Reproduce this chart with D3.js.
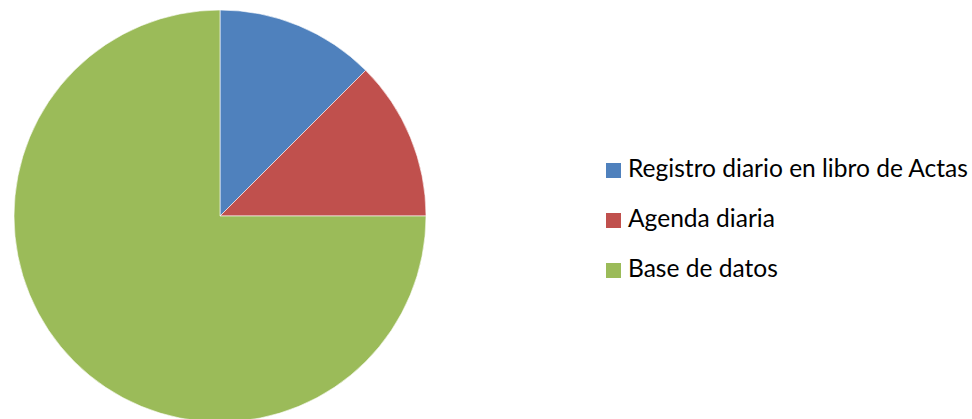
<!DOCTYPE html>
<html>
<head>
<meta charset="utf-8">
<script src="https://cdn.jsdelivr.net/npm/d3@7"></script>
<style>
  body { margin: 0; background: #fff; }
  text { font-family: Lato, "Liberation Sans", sans-serif; fill: #000; }
</style>
</head>
<body>
<div id="chart"></div>
<script>
var width = 972,
    height = 419;

// chart data
const categories = ['Registro diario en libro de Actas', 'Agenda diaria', 'Base de datos'];
const values = [1, 1, 6];
const colors = ['#4F81BD', '#C0504D', '#9BBB59'];

const center = { x: 220, y: 216 };
const radius = 206;

var svg = d3.select('#chart').append('svg')
    .attr('width', width)
    .attr('height', height);

var color = d3.scaleOrdinal().domain(categories).range(colors);

var pie = d3.pie().sort(null).value(d => d.value);
var arc = d3.arc().innerRadius(0).outerRadius(radius);

var data = categories.map((c, i) => ({ name: c, value: values[i] }));

svg.append('g')
    .attr('transform', `translate(${center.x},${center.y})`)
    .selectAll('path')
    .data(pie(data))
    .enter()
    .append('path')
    .attr('d', arc)
    .attr('fill', d => color(d.data.name))
    .attr('stroke', '#fff')
    .attr('stroke-width', 0.6);

// legend
var legend = svg.selectAll('.key')
    .data(categories)
    .enter()
    .append('g')
    .attr('class', 'key')
    .attr('transform', (d, i) => `translate(606,${163 + i * 50})`);

legend.append('rect')
    .attr('width', 15)
    .attr('height', 15)
    .attr('fill', d => color(d));

var labels = legend.append('text')
    .attr('x', 22)
    .attr('y', 14)
    .style('font-size', '22px')
    .text(d => d);

// fit the longest label to the width seen in the original
var longest = labels.filter((d, i) => i === 0).node();
var w = longest.getComputedTextLength();
labels.style('font-size', (22 * 340 / w) + 'px');
</script>
</body>
</html>
